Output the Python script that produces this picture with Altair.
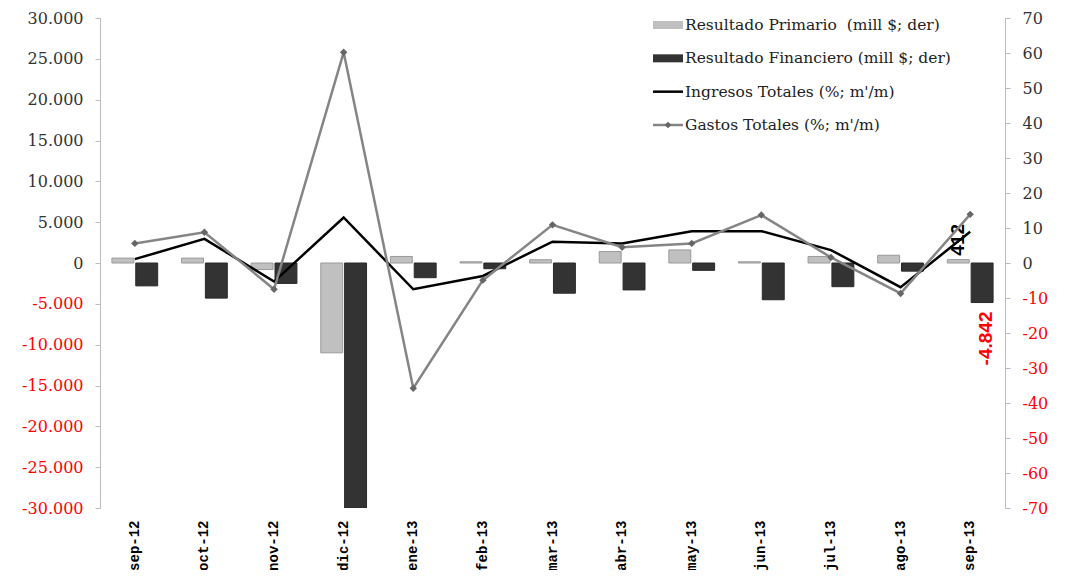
import altair as alt
import pandas as pd

months = ["sep-12", "oct-12", "nov-12", "dic-12", "ene-13", "feb-13", "mar-13",
          "abr-13", "may-13", "jun-13", "jul-13", "ago-13", "sep-13"]
primario = [600, 600, -800, -11000, 800, 150, 400, 1400, 1600, 150, 800, 950, 412]
financiero = [-2800, -4300, -2500, -30000, -1800, -700, -3700, -3300, -900, -4500, -2900, -1000, -4842]
ingresos = [1.1, 6.9, -5.3, 13.0, -7.5, -3.7, 6.1, 5.6, 9.1, 9.1, 3.7, -6.9, 8.9]
gastos = [5.6, 8.8, -7.5, 60.2, -35.8, -4.9, 10.9, 4.5, 5.6, 13.7, 1.6, -8.7, 13.9]

bar_series = ["Resultado Primario\u00a0 (mill $; der)", "Resultado Financiero (mill $; der)"]
line_series = ["Ingresos Totales (%; m'/m)", "Gastos Totales (%; m'/m)"]
legend_labels = bar_series + line_series

bar_df = pd.DataFrame(
    [{"mes": m, "serie": bar_series[0], "valor": v} for m, v in zip(months, primario)]
    + [{"mes": m, "serie": bar_series[1], "valor": v} for m, v in zip(months, financiero)]
)
line_df = pd.DataFrame(
    [{"mes": m, "serie": line_series[0], "valor": v} for m, v in zip(months, ingresos)]
    + [{"mes": m, "serie": line_series[1], "valor": v} for m, v in zip(months, gastos)]
)

def fmt(v):
    return f"{v:,}".replace(",", ".")

annot_df = pd.DataFrame([
    {"mes": months[-1], "serie": bar_series[0], "valor": primario[-1], "txt": fmt(primario[-1])},
    {"mes": months[-1], "serie": bar_series[1], "valor": financiero[-1], "txt": fmt(financiero[-1])},
])
legend_df = pd.DataFrame({"label": legend_labels})

label_color = {"condition": {"test": "datum.value < 0", "value": "#ff0000"}, "value": "#333333"}
num_expr = "(datum.value < 0 ? '-' : '') + replace(format(abs(datum.value), ','), ',', '.')"

x_enc = alt.X(
    "mes:N", sort=months, title=None,
    scale=alt.Scale(paddingInner=0, paddingOuter=0),
    axis=alt.Axis(labelAngle=-90, labelFont="Liberation Mono", labelFontWeight="bold",
                  labelFontSize=14, labelColor="#000", labelPadding=12, ticks=False,
                  domain=False, grid=False, labelOverlap=False),
)
xoff = alt.XOffset("serie:N", sort=bar_series,
                   scale=alt.Scale(paddingInner=0.08, paddingOuter=0.5))

left_vals = list(range(-30000, 30001, 5000))
y_left = alt.Y(
    "valor:Q", title=None,
    scale=alt.Scale(domain=[-30000, 30000], nice=False, zero=False),
    axis=alt.Axis(values=left_vals, tickCount=len(left_vals), grid=False, labelOverlap=False,
                  labelExpr=num_expr, labelColor=label_color,
                  labelFont="DejaVu Serif", labelFontSize=16, labelPadding=12,
                  tickSize=5, tickColor="#bbbbbb", domainColor="#bbbbbb"),
)

bars = alt.Chart(bar_df).mark_bar(strokeWidth=1, clip=True).encode(
    x=x_enc, xOffset=xoff, y=y_left,
    color=alt.Color("serie:N", scale=alt.Scale(domain=bar_series, range=["#c0c0c0", "#333333"]), legend=None),
    stroke=alt.Stroke("serie:N", scale=alt.Scale(domain=bar_series, range=["#9a9a9a", "#2a2a2a"]), legend=None),
)

ann_base = alt.Chart(annot_df).encode(
    x=x_enc, xOffset=xoff, y=alt.Y("valor:Q"), text="txt:N")
ann1 = ann_base.transform_filter(alt.datum.valor > 0).mark_text(
    angle=270, align="left", baseline="middle", dx=4, font="Liberation Sans",
    fontWeight="bold", fontSize=19, color="#000")
ann2 = ann_base.transform_filter(alt.datum.valor < 0).mark_text(
    angle=270, align="right", baseline="middle", dx=-9, dy=4, font="Liberation Sans",
    fontWeight="bold", fontSize=19, color="#ff0000")

left_layer = alt.layer(bars, ann1, ann2)

right_vals = list(range(-70, 71, 10))
y_right = alt.Y(
    "valor:Q", title=None,
    scale=alt.Scale(domain=[-70, 70], nice=False, zero=False),
    axis=alt.Axis(orient="right", values=right_vals, tickCount=len(right_vals), grid=False,
                  labelOverlap=False, labelExpr=num_expr, labelColor=label_color,
                  labelFont="DejaVu Serif", labelFontSize=16, labelPadding=12,
                  tickSize=5, tickColor="#bbbbbb", domainColor="#bbbbbb"),
)

line_color = alt.Color("serie:N", scale=alt.Scale(domain=line_series, range=["#000000", "#858585"]), legend=None)
lines = alt.Chart(line_df).mark_line(strokeWidth=2.5).encode(
    x=x_enc, y=y_right, color=line_color, detail="serie:N",
    order=alt.Order("mes_idx:Q"),
).transform_calculate(mes_idx="indexof(" + str(months) + ", datum.mes)")
pts = alt.Chart(line_df).transform_filter(alt.datum.serie == line_series[1]).mark_point(
    shape="diamond", filled=True, size=55, color="#666666", opacity=1).encode(
    x=x_enc, y=alt.Y("valor:Q"))
right_layer = alt.layer(lines, pts)

leg_y = alt.Y("label:N", sort=legend_labels, axis=None,
              scale=alt.Scale(type="point", domain=legend_labels, range=[7, 107], padding=0))
leg_rect = alt.Chart(legend_df).transform_filter(
    alt.FieldOneOfPredicate(field="label", oneOf=bar_series)).mark_rule(strokeWidth=8).encode(
    x=alt.value(553), x2=alt.value(583), y=leg_y,
    color=alt.Color("label:N", scale=alt.Scale(domain=bar_series, range=["#c0c0c0", "#333333"]), legend=None))
leg_line = alt.Chart(legend_df).transform_filter(
    alt.FieldOneOfPredicate(field="label", oneOf=line_series)).mark_rule(strokeWidth=2.5).encode(
    x=alt.value(553), x2=alt.value(583), y=leg_y,
    color=alt.Color("label:N", scale=alt.Scale(domain=line_series, range=["#000000", "#858585"]), legend=None))
leg_pt = alt.Chart(legend_df).transform_filter(alt.datum.label == line_series[1]).mark_point(
    shape="diamond", filled=True, size=45, color="#666666", opacity=1).encode(
    x=alt.value(568), y=leg_y)
leg_text = alt.Chart(legend_df).mark_text(
    align="left", baseline="middle", font="DejaVu Serif", fontSize=15.5, color="#222222").encode(
    x=alt.value(585), y=leg_y, text="label:N")

chart = alt.layer(
    left_layer, right_layer, leg_rect, leg_line, leg_pt, leg_text
).resolve_scale(
    y="independent", color="independent", stroke="independent"
).properties(
    width=905, height=490,
    autosize=alt.AutoSizeParams(type="none"),
    padding={"left": 92, "top": 10, "right": 60, "bottom": 62},
).configure_view(stroke=None)

chart.save("out.html", embed_options={"renderer": "svg", "actions": False})
